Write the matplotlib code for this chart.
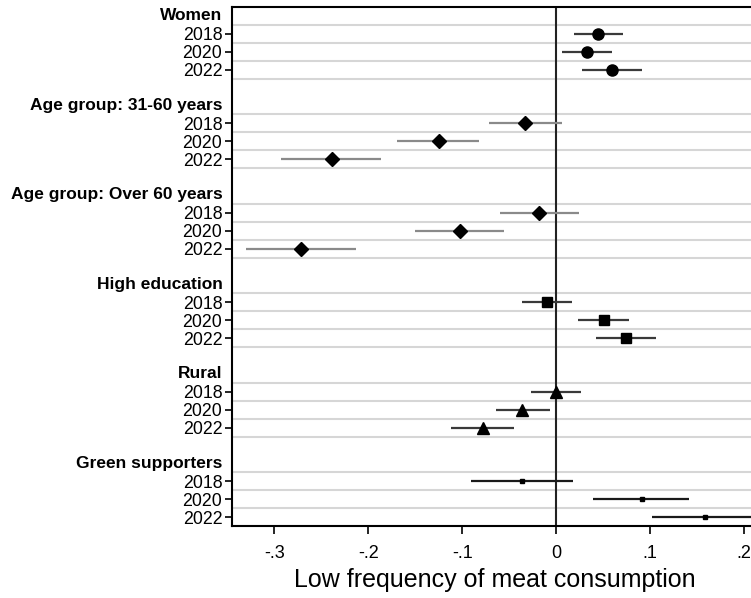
import matplotlib
matplotlib.use("Agg")
import matplotlib.pyplot as plt

plt.rcParams["font.family"] = ["Liberation Sans", "DejaVu Sans"]

groups = ["Women", "Age group: 31-60 years", "Age group: Over 60 years",
          "High education", "Rural", "Green supporters"]
years = ["2018", "2020", "2022"]

est = [
    [0.045, 0.033, 0.059],
    [-0.033, -0.125, -0.239],
    [-0.018, -0.102, -0.272],
    [-0.010, 0.051, 0.074],
    [0.000, -0.036, -0.078],
    [-0.036, 0.091, 0.158],
]
ci_low = [
    [0.019, 0.006, 0.028],
    [-0.071, -0.169, -0.293],
    [-0.060, -0.150, -0.330],
    [-0.036, 0.023, 0.042],
    [-0.027, -0.064, -0.112],
    [-0.091, 0.039, 0.102],
]
ci_high = [
    [0.071, 0.060, 0.091],
    [0.006, -0.082, -0.186],
    [0.024, -0.055, -0.213],
    [0.017, 0.078, 0.106],
    [0.027, -0.007, -0.045],
    [0.018, 0.142, 0.215],
]
markers = ["o", "D", "D", "s", "^", "s"]
msizes = [8, 7.5, 7.5, 7.5, 8, 2.5]
ci_colors = ["#3a3a3a", "#8a8a8a", "#8a8a8a", "#3a3a3a", "#3a3a3a", "#1a1a1a"]

fig = plt.figure(figsize=(7.51, 5.98), dpi=100)
ax = fig.add_axes([0.309, 0.1204, 0.70, 0.8679])

rows_per_group = 5
ytick_pos = []
ytick_lab = []
for g, name in enumerate(groups):
    base = g * rows_per_group
    # gridlines between rows of a group
    for k in range(4):
        ax.axhline(base + k + 0.5, color="#d6d6d6", lw=1.5, zorder=0)
    for j, yr in enumerate(years):
        y = base + 1 + j
        ytick_pos.append(y)
        ytick_lab.append(yr)
        ax.plot([ci_low[g][j], ci_high[g][j]], [y, y], color=ci_colors[g],
                lw=1.6, zorder=2, solid_capstyle="butt")
        ax.plot(est[g][j], y, marker=markers[g], ms=msizes[g], color="black",
                ls="none", zorder=3)
    ax.text(-0.018, base, name, transform=ax.get_yaxis_transform(),
            ha="right", va="center", fontsize=12.5, fontweight="bold")

ax.axvline(0, color="#222222", lw=1.5, zorder=1)

n_rows = (len(groups) - 1) * rows_per_group + 4
ax.set_ylim(n_rows - 0.5, -0.5)
ax.set_xlim(-0.345, 0.2147)
ax.set_yticks(ytick_pos)
ax.set_yticklabels(ytick_lab, fontsize=12.8)
ax.set_xticks([-0.3, -0.2, -0.1, 0, 0.1, 0.2])
ax.set_xticklabels(["-.3", "-.2", "-.1", "0", ".1", ".2"], fontsize=13)
ax.tick_params(axis="y", length=5, width=1.2, pad=2)
ax.tick_params(axis="x", length=6, width=1.2, pad=8)
ax.set_xlabel("Low frequency of meat consumption", fontsize=18, labelpad=4)

for side in ["left", "top", "bottom"]:
    ax.spines[side].set_linewidth(1.5)
ax.spines["right"].set_visible(False)

fig.savefig("out.png", dpi=100)
